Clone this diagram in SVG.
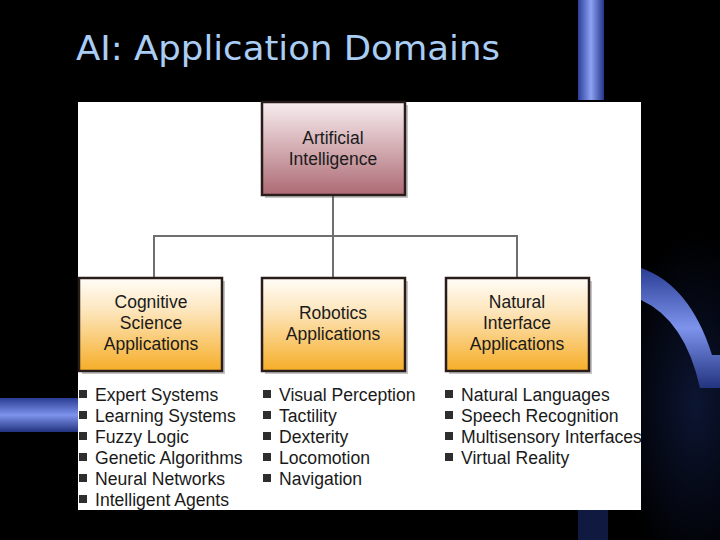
<svg xmlns="http://www.w3.org/2000/svg" width="720" height="540" viewBox="0 0 720 540">
<defs>
<linearGradient id="gAI" x1="0" y1="0" x2="0" y2="1">
<stop offset="0" stop-color="#f8eef0"/>
<stop offset="1" stop-color="#ad6a74"/>
</linearGradient>
<linearGradient id="gOr" x1="0" y1="0" x2="0" y2="1">
<stop offset="0" stop-color="#fffdf8"/>
<stop offset="0.35" stop-color="#fde6bd"/>
<stop offset="1" stop-color="#f6ad27"/>
</linearGradient>
<linearGradient id="gBlue" x1="0" y1="0" x2="1" y2="0">
<stop offset="0" stop-color="#2a3f9a"/>
<stop offset="0.5" stop-color="#8da2f2"/>
<stop offset="1" stop-color="#24368a"/>
</linearGradient>
<linearGradient id="gBlueV" x1="0" y1="0" x2="0" y2="1">
<stop offset="0" stop-color="#2a3d95"/>
<stop offset="0.5" stop-color="#7d93ec"/>
<stop offset="1" stop-color="#22337f"/>
</linearGradient>
<radialGradient id="gGlow" cx="0.85" cy="0.6" r="0.5">
<stop offset="0" stop-color="#0c1532"/>
<stop offset="1" stop-color="#000000"/>
</radialGradient>
</defs>
<style>
.box{stroke:#2b1c1c;stroke-width:2.5}
.shadow{fill:#555;opacity:0.35}
.lbl{font-family:"Liberation Sans",Arial,sans-serif;font-size:17.5px;fill:#1a1a1a;text-anchor:middle}
.item{font-family:"Liberation Sans",Arial,sans-serif;font-size:17.6px;fill:#1a1a1a}
.bul{fill:#2e2e2e}
.conn{stroke:#6f6f6f;stroke-width:2;fill:none}
</style>
<rect x="0" y="0" width="720" height="540" fill="#000"/>
<rect x="560" y="200" width="160" height="340" fill="url(#gGlow)"/>
<!-- background decorations -->
<rect x="578" y="0" width="26" height="100" fill="url(#gBlue)"/>
<path d="M641 268 Q690 285 712 355 L720 355 L720 388 L700 388 Q685 320 641 300 Z" fill="url(#gBlueV)"/>
<rect x="0" y="398" width="78" height="34" fill="url(#gBlueV)"/>
<rect x="578" y="510" width="30" height="30" fill="#1a2a6a" opacity="0.6"/>
<text x="76" y="60" font-family="'DejaVu Sans Condensed','DejaVu Sans',sans-serif" font-size="34" fill="#a9cdf4" textLength="424" lengthAdjust="spacingAndGlyphs">AI: Application Domains</text>
<rect x="78" y="102" width="563" height="408" fill="#fff"/>
<g id="connectors">
<path class="conn" d="M333 196 V236 M154 277 V236 H517 V277 M333 236 V277"/>
</g>
<g id="ai">
<rect x="265" y="105" width="143" height="93" class="shadow"/>
<rect x="262" y="102" width="143" height="93" fill="url(#gAI)" class="box"/>
<text class="lbl" x="333" y="144">Artificial</text>
<text class="lbl" x="333" y="165">Intelligence</text>
</g>
<g id="cognitive">
<rect x="82" y="281" width="143" height="93" class="shadow"/>
<rect x="79" y="278" width="143" height="93" fill="url(#gOr)" class="box"/>
<text class="lbl" x="151" y="308">Cognitive</text>
<text class="lbl" x="151" y="329">Science</text>
<text class="lbl" x="151" y="350">Applications</text>
</g>
<g id="robotics">
<rect x="265" y="281" width="143" height="93" class="shadow"/>
<rect x="262" y="278" width="143" height="93" fill="url(#gOr)" class="box"/>
<text class="lbl" x="333" y="319">Robotics</text>
<text class="lbl" x="333" y="340">Applications</text>
</g>
<g id="natural">
<rect x="449" y="281" width="143" height="93" class="shadow"/>
<rect x="446" y="278" width="143" height="93" fill="url(#gOr)" class="box"/>
<text class="lbl" x="517" y="308">Natural</text>
<text class="lbl" x="517" y="329">Interface</text>
<text class="lbl" x="517" y="350">Applications</text>
</g>
<g id="list-cognitive">
<rect class="bul" x="79" y="390" width="8" height="8"/><text class="item" x="95" y="401">Expert Systems</text>
<rect class="bul" x="79" y="411" width="8" height="8"/><text class="item" x="95" y="422">Learning Systems</text>
<rect class="bul" x="79" y="432" width="8" height="8"/><text class="item" x="95" y="443">Fuzzy Logic</text>
<rect class="bul" x="79" y="453" width="8" height="8"/><text class="item" x="95" y="464">Genetic Algorithms</text>
<rect class="bul" x="79" y="474" width="8" height="8"/><text class="item" x="95" y="485">Neural Networks</text>
<rect class="bul" x="79" y="495" width="8" height="8"/><text class="item" x="95" y="506">Intelligent Agents</text>
</g>
<g id="list-robotics">
<rect class="bul" x="263" y="390" width="8" height="8"/><text class="item" x="279" y="401">Visual Perception</text>
<rect class="bul" x="263" y="411" width="8" height="8"/><text class="item" x="279" y="422">Tactility</text>
<rect class="bul" x="263" y="432" width="8" height="8"/><text class="item" x="279" y="443">Dexterity</text>
<rect class="bul" x="263" y="453" width="8" height="8"/><text class="item" x="279" y="464">Locomotion</text>
<rect class="bul" x="263" y="474" width="8" height="8"/><text class="item" x="279" y="485">Navigation</text>
</g>
<g id="list-natural">
<rect class="bul" x="445" y="390" width="8" height="8"/><text class="item" x="461" y="401">Natural Languages</text>
<rect class="bul" x="445" y="411" width="8" height="8"/><text class="item" x="461" y="422">Speech Recognition</text>
<rect class="bul" x="445" y="432" width="8" height="8"/><text class="item" x="461" y="443">Multisensory Interfaces</text>
<rect class="bul" x="445" y="453" width="8" height="8"/><text class="item" x="461" y="464">Virtual Reality</text>
</g>
</svg>
